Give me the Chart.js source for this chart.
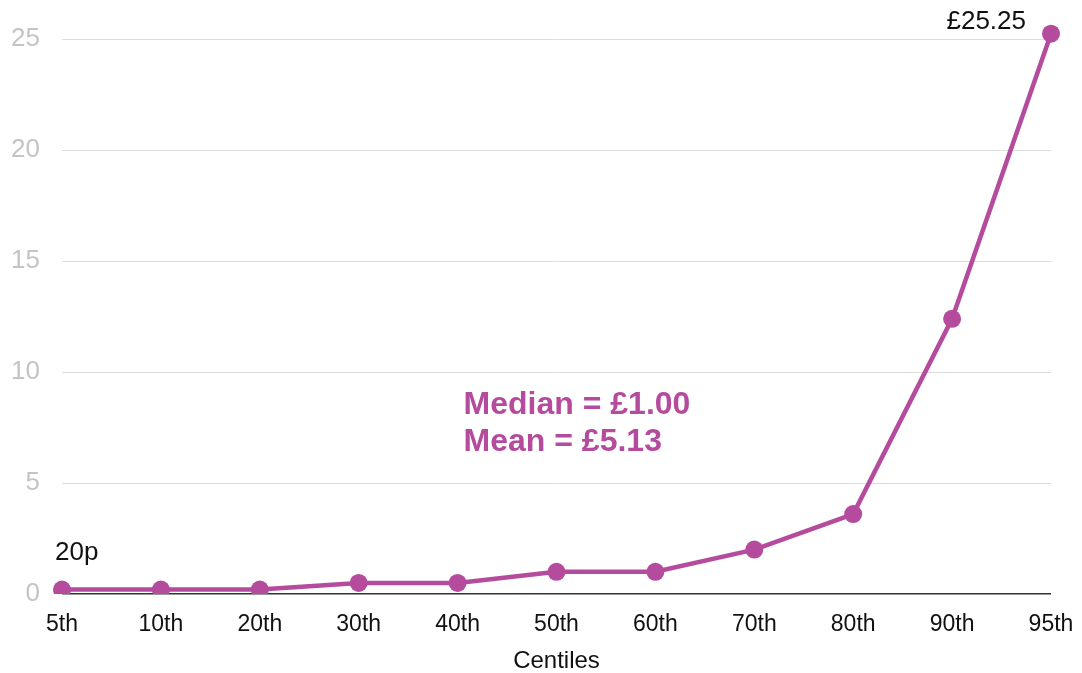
<!DOCTYPE html>
<html>
<head>
<meta charset="utf-8">
<script src="https://cdn.jsdelivr.net/npm/chart.js@4/dist/chart.umd.min.js"></script>
<style>
html,body{margin:0;padding:0;background:#fff;}
#wrap{width:1082px;height:673px;position:relative;}
</style>
</head>
<body>
<div id="wrap"><canvas id="c" width="1082" height="673"></canvas></div>
<script>
const categories = ['5th','10th','20th','30th','40th','50th','60th','70th','80th','90th','95th'];
const values = [0.2, 0.2, 0.2, 0.5, 0.5, 1.0, 1.0, 2.0, 3.6, 12.4, 25.25];
const yTicks = [0, 5, 10, 15, 20, 25];
const firstLabel = '20p';
const lastLabel = '£25.25';
const statsLines = ['Median = £1.00', 'Mean = £5.13'];
const statsAnchor = {index: 4, values: [8.5, 6.85]};

const purple = '#b54b9d';
const FONT = "'Liberation Sans', Arial, sans-serif";

const annotations = {
  id: 'annotations',
  afterDatasetsDraw(chart) {
    const ctx = chart.ctx;
    const xs = chart.scales.x, ys = chart.scales.y;
    ctx.save();
    ctx.font = '26px ' + FONT;
    ctx.fillStyle = '#111';
    ctx.textBaseline = 'middle';
    ctx.textAlign = 'left';
    ctx.fillText(firstLabel, xs.getPixelForValue(0) - 7, ys.getPixelForValue(values[0]) - 37);
    ctx.textAlign = 'right';
    ctx.fillText(lastLabel, xs.getPixelForValue(values.length - 1) - 25, ys.getPixelForValue(values[values.length - 1]) - 12);
    ctx.font = 'bold 32px ' + FONT;
    ctx.fillStyle = purple;
    ctx.textAlign = 'left';
    statsLines.forEach((t, i) => {
      ctx.fillText(t, xs.getPixelForValue(statsAnchor.index) + 6, ys.getPixelForValue(statsAnchor.values[i]));
    });
    ctx.restore();
  }
};

new Chart(document.getElementById('c'), {
  type: 'line',
  data: {
    labels: categories,
    datasets: [{
      data: values,
      borderColor: purple,
      backgroundColor: purple,
      borderWidth: 4.5,
      pointRadius: 9,
      pointHoverRadius: 9,
      pointBorderWidth: 0,
      pointBackgroundColor: purple,
      tension: 0,
      fill: false
    }]
  },
  options: {
    responsive: false,
    animation: false,
    events: [],
    layout: {padding: 0},
    plugins: {legend: {display: false}, tooltip: {enabled: false}},
    scales: {
      x: {
        type: 'category',
        offset: false,
        grid: {display: false, drawTicks: false},
        border: {display: false},
        ticks: {color: '#111', font: {family: FONT, size: 23}, padding: 17, maxRotation: 0, autoSkip: false},
        title: {display: true, text: 'Centiles', color: '#111', font: {family: FONT, size: 24}, padding: {top: 10, bottom: -3}},
        afterFit(scale) { scale.height = 79; scale.paddingLeft = 0; scale.paddingRight = 31; }
      },
      y: {
        min: 0,
        max: 26,
        border: {display: false},
        grid: {
          drawTicks: false,
          color: (c) => c.tick && c.tick.value === 0 ? '#333' : '#dcdcdc',
          lineWidth: (c) => c.tick && c.tick.value === 0 ? 1.5 : 1
        },
        ticks: {color: '#c4c4c4', font: {family: FONT, size: 26}, padding: 22},
        afterBuildTicks(scale) { scale.ticks = yTicks.map(v => ({value: v})); },
        afterFit(scale) { scale.width = 62; scale.paddingTop = 17; scale.paddingBottom = 0; }
      }
    }
  },
  plugins: [annotations]
});
</script>
</body>
</html>
